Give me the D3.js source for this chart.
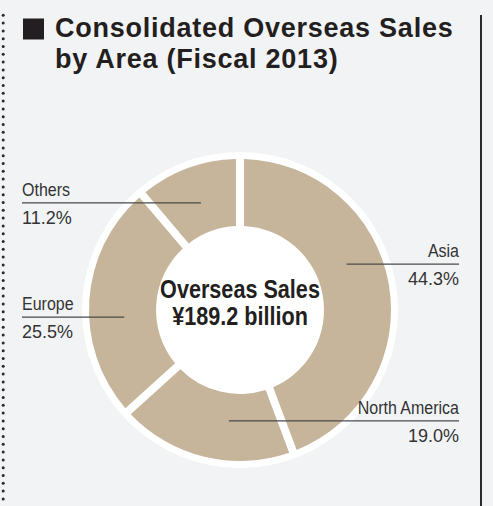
<!DOCTYPE html>
<html>
<head>
<meta charset="utf-8">
<script src="https://cdn.jsdelivr.net/npm/d3@7/dist/d3.min.js"></script>
<style>
  html, body { margin: 0; padding: 0; background: #f2f3f5; }
  svg { display: block; }
</style>
</head>
<body>
<svg id="chart" width="493" height="506"></svg>
<script>
// Overseas sales share by area, fiscal 2013 (percent)
const areas = ["Asia", "North America", "Europe", "Others"];
const shares = [44.3, 19.0, 25.5, 11.2];
const shareLabels = ["44.3%", "19.0%", "25.5%", "11.2%"];
const titleLines = ["Consolidated Overseas Sales", "by Area (Fiscal 2013)"];
const centerLines = ["Overseas Sales", "¥189.2 billion"];

const W = 493, H = 506;
const svg = d3.select("#chart");

const cx = 240, cy = 310;
const rOuter = 151, rInner = 84, rHalo = 158;
const tan = "#c6b49b";
const sans = "'Liberation Sans', Arial, Helvetica, sans-serif";
const narrow = 0.865; // horizontal squeeze for the condensed captions

// Frame: dotted rule on the left, solid rule on the right
const dotY = d3.range(15.3, H, 7.8);
svg.append("g").selectAll("circle").data(dotY).join("circle")
  .attr("cx", 3.2).attr("cy", d => d).attr("r", 1.5).attr("fill", "#2a2a2a");
svg.append("line").attr("x1", 481).attr("x2", 481).attr("y1", 15).attr("y2", H)
  .attr("stroke", "#2a2a2a").attr("stroke-width", 2);

// Title
svg.append("rect").attr("x", 23).attr("y", 18.5).attr("width", 21).attr("height", 21).attr("fill", "#231f20");
svg.append("g").selectAll("text").data(titleLines).join("text")
  .attr("x", 55).attr("y", (d, i) => 37 + i * 31)
  .attr("font-family", sans)
  .attr("font-weight", "bold").attr("font-size", 27)
  .attr("letter-spacing", 0.75).attr("fill", "#231f20")
  .text(d => d);

// Donut
const g = svg.append("g").attr("transform", `translate(${cx},${cy})`);
g.append("circle").attr("r", rHalo).attr("fill", "#ffffff");

const pie = d3.pie().sort(null).value(d => d)(shares);
const arc = d3.arc().innerRadius(rInner).outerRadius(rOuter)
  .padRadius(rOuter).padAngle(8 / rOuter);
g.selectAll("path").data(pie).join("path")
  .attr("d", arc).attr("fill", tan);

// Center caption
g.append("g").selectAll("text").data(centerLines).join("text")
  .attr("transform", (d, i) => `translate(0,${-12 + i * 27}) scale(${narrow},1)`)
  .attr("text-anchor", "middle")
  .attr("font-family", sans)
  .attr("font-weight", "bold").attr("font-size", 25).attr("fill", "#231f20")
  .text(d => d);

// Leader lines and labels: each anchored at a point on the ring
const labelLayout = [
  { angle: 66.7, r: 116, side: "right" },
  { angle: 185.7, r: 111.5, side: "right" },
  { angle: 266.5, r: 116, side: "left" },
  { angle: 340, r: 114, side: "left" }
];
const labels = areas.map((name, i) => {
  const L = labelLayout[i];
  const a = L.angle * Math.PI / 180;
  const ax = cx + L.r * Math.sin(a), ay = cy - L.r * Math.cos(a);
  const tx = L.side === "left" ? 22 : 459;
  return { name, value: shareLabels[i], ax, ay, tx, side: L.side };
});

const lg = svg.append("g");
lg.selectAll("line").data(labels).join("line")
  .attr("x1", d => d.ax).attr("x2", d => d.tx)
  .attr("y1", d => d.ay).attr("y2", d => d.ay)
  .attr("stroke", "#4a4a4a").attr("stroke-width", 1.2);

lg.selectAll("text.name").data(labels).join("text").attr("class", "name")
  .attr("transform", d => `translate(${d.tx},${d.ay - 7}) scale(${narrow},1)`)
  .attr("text-anchor", d => d.side === "left" ? "start" : "end")
  .attr("font-family", sans)
  .attr("font-size", 18.5).attr("fill", "#333333")
  .text(d => d.name);

lg.selectAll("text.value").data(labels).join("text").attr("class", "value")
  .attr("x", d => d.tx).attr("y", d => d.ay + 21)
  .attr("text-anchor", d => d.side === "left" ? "start" : "end")
  .attr("font-family", sans)
  .attr("font-size", 18).attr("fill", "#333333")
  .text(d => d.value);
</script>
</body>
</html>
